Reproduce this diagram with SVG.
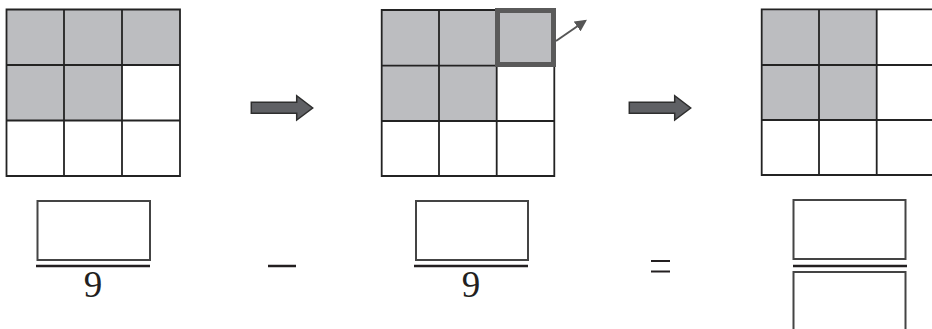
<svg xmlns="http://www.w3.org/2000/svg" width="932" height="329" viewBox="0 0 932 329">
<defs>
<style>
.sh{fill:#bcbdc0}
.gl{stroke:#232323;stroke-width:1.8;fill:none}
.bx{fill:#fff;stroke:#444;stroke-width:2}
.bar{stroke:#231f20;stroke-width:2.5}
.ar{fill:#5f6064;stroke:#2e2e2e;stroke-width:1.5}
.num{font-family:"Liberation Serif","DejaVu Serif",serif;font-size:37px;fill:#231f20;text-anchor:middle}
</style>
<marker id="ah" viewBox="0 0 10 10" refX="8" refY="5" markerWidth="6" markerHeight="6" orient="auto">
<path d="M0,0 L10,5 L0,10 z" fill="#555"/>
</marker>
</defs>
<rect width="932" height="329" fill="#fff"/>
<g id="grid1">
<rect class="sh" x="6.5" y="9.5" width="173.5" height="55.5"/>
<rect class="sh" x="6.5" y="65" width="115.5" height="55.5"/>
<path class="gl" d="M6.5,9.5H180V176H6.5Z M64,9.5V176 M122,9.5V176 M6.5,65H180 M6.5,120.5H180"/>
</g>
<g id="grid2">
<rect class="sh" x="381.7" y="10" width="172.6" height="55.7"/>
<rect class="sh" x="381.7" y="65.7" width="115" height="55.3"/>
<path class="gl" d="M381.7,10H554.3V176H381.7Z M439,10V176 M496.7,10V176 M381.7,65.7H554.3 M381.7,121H554.3"/>
<rect x="497.5" y="10.5" width="56" height="54" fill="none" stroke="#5a5a5a" stroke-width="5"/>
</g>
<g id="grid3">
<rect class="sh" x="761.7" y="9.3" width="115" height="110.7"/>
<path class="gl" d="M761.7,9.3H934V175H761.7Z M819,9.3V175 M876.7,9.3V175 M761.7,65H934 M761.7,120H934"/>
</g>
<g id="connectors">
<line x1="556" y1="41" x2="585" y2="21" stroke="#555" stroke-width="2" marker-end="url(#ah)"/>
<path class="ar" d="M251.3,102.3H296.7V95.7L312.7,108L296.7,120V113.3H251.3Z"/>
<path class="ar" d="M629.3,102.3H674.7V95.7L690.7,108L674.7,120V113.3H629.3Z"/>
</g>
<g id="frac1">
<rect class="bx" x="37.5" y="201" width="112.5" height="59"/>
<line class="bar" x1="36" y1="266" x2="150" y2="266"/>
<text class="num" x="93" y="297">9</text>
</g>
<g id="minus">
<line class="bar" x1="268" y1="266" x2="296" y2="266"/>
</g>
<g id="frac2">
<rect class="bx" x="416" y="201" width="112" height="59"/>
<line class="bar" x1="414" y1="266" x2="528" y2="266"/>
<text class="num" x="471" y="297">9</text>
</g>
<g id="equals">
<line x1="651" y1="261" x2="670" y2="261" stroke="#231f20" stroke-width="2"/>
<line x1="651" y1="271.5" x2="670" y2="271.5" stroke="#231f20" stroke-width="2"/>
</g>
<g id="frac3">
<rect class="bx" x="793.5" y="200" width="112" height="59"/>
<line class="bar" x1="793" y1="266" x2="907" y2="266"/>
<rect class="bx" x="793.5" y="272" width="112" height="70"/>
</g>
</svg>
